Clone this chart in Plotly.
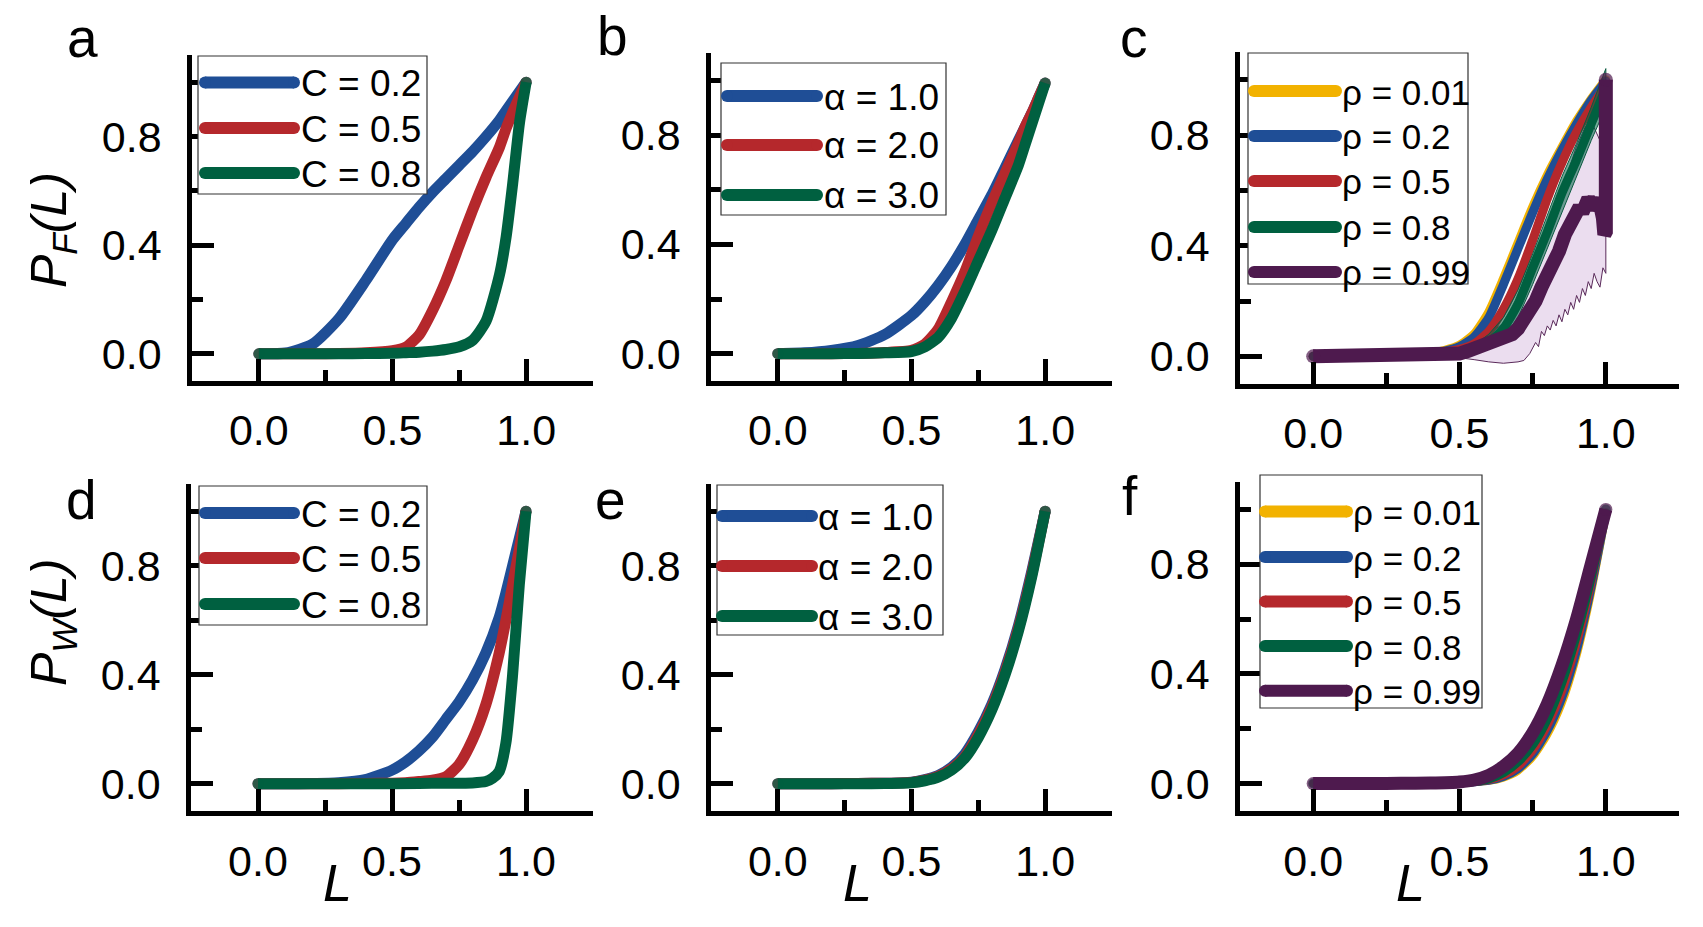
import plotly.graph_objects as go

W, H = 1703, 927
FONT = "Liberation Sans, Arial, sans-serif"

# ---------------- data ----------------
C_labels = ["C = 0.2", "C = 0.5", "C = 0.8"]
alpha_labels = ["α = 1.0", "α = 2.0", "α = 3.0"]
rho_labels = ["ρ = 0.01", "ρ = 0.2", "ρ = 0.5", "ρ = 0.8", "ρ = 0.99"]

L_std = [0, 0.1, 0.2, 0.3, 0.4, 0.5, 0.55, 0.6, 0.65, 0.7, 0.75, 0.8, 0.85, 0.9, 0.925, 0.95, 0.975, 1.0]

# panel a : P_F(L) for C
a_C02 = [0, 0.003, 0.035, 0.13, 0.27, 0.42, 0.48, 0.54, 0.595, 0.645, 0.695, 0.745, 0.80, 0.86, 0.895, 0.93, 0.965, 1.0]
a_C05 = [0, 0, 0, 0.001, 0.004, 0.012, 0.025, 0.07, 0.16, 0.27, 0.40, 0.53, 0.65, 0.76, 0.83, 0.89, 0.945, 1.0]
a_C08 = [0, 0, 0, 0, 0.001, 0.002, 0.004, 0.006, 0.01, 0.016, 0.026, 0.05, 0.12, 0.29, 0.43, 0.63, 0.85, 1.0]

# panel b : P_F(L) for alpha
b_a1 = [0, 0.003, 0.012, 0.03, 0.07, 0.14, 0.19, 0.25, 0.32, 0.40, 0.49, 0.58, 0.68, 0.78, 0.83, 0.88, 0.935, 0.99]
b_a2 = [0, 0, 0, 0.001, 0.004, 0.012, 0.035, 0.09, 0.19, 0.30, 0.43, 0.55, 0.66, 0.77, 0.83, 0.88, 0.935, 0.99]
b_a3 = [0, 0, 0, 0.001, 0.003, 0.008, 0.025, 0.06, 0.13, 0.23, 0.34, 0.45, 0.57, 0.69, 0.765, 0.84, 0.915, 0.99]

# panel c : P_F(L) for rho (with spread bands)
L_c = [0, 0.1, 0.2, 0.3, 0.4, 0.45, 0.5, 0.55, 0.6, 0.65, 0.7, 0.75, 0.8, 0.85, 0.9, 0.95, 1.0]
c_r001 = [0, 0, 0.001, 0.004, 0.012, 0.022, 0.04, 0.08, 0.16, 0.28, 0.41, 0.54, 0.655, 0.755, 0.85, 0.93, 1.0]
c_r02 = [0, 0, 0.001, 0.003, 0.01, 0.019, 0.035, 0.07, 0.14, 0.26, 0.39, 0.52, 0.64, 0.745, 0.84, 0.925, 0.995]
c_r05 = [0, 0, 0.001, 0.002, 0.008, 0.015, 0.025, 0.045, 0.09, 0.17, 0.28, 0.42, 0.57, 0.70, 0.81, 0.90, 0.98]
c_r08 = [0, 0, 0, 0.001, 0.005, 0.009, 0.015, 0.025, 0.05, 0.10, 0.19, 0.32, 0.45, 0.59, 0.71, 0.84, 0.97]
c_r08_hi = [0, 0, 0.001, 0.002, 0.008, 0.013, 0.02, 0.04, 0.08, 0.14, 0.24, 0.37, 0.51, 0.65, 0.77, 0.90, 1.04]
c_r08_lo = [0, 0, 0, 0, 0.002, 0.005, 0.01, 0.015, 0.03, 0.07, 0.14, 0.26, 0.39, 0.52, 0.65, 0.78, 0.90]

L_c099 = [0, 0.1, 0.2, 0.3, 0.4, 0.45, 0.5, 0.53, 0.56, 0.59, 0.62, 0.65, 0.68, 0.7, 0.72, 0.74, 0.76, 0.78,
          0.8, 0.82, 0.84, 0.86, 0.88, 0.9, 0.91, 0.92, 0.93, 0.94, 0.95, 0.96, 0.97, 0.98, 0.99, 0.995, 1.0, 1.0]
c_r099 = [0, 0, 0, 0.001, 0.003, 0.005, 0.01, 0.02, 0.03, 0.045, 0.055, 0.065, 0.08, 0.10, 0.13, 0.16, 0.20, 0.25,
          0.29, 0.33, 0.38, 0.44, 0.49, 0.53, 0.54, 0.52, 0.55, 0.57, 0.55, 0.57, 0.53, 0.55, 0.50, 0.44, 0.45, 1.0]
L_c099_hi = [0, 0.2, 0.4, 0.5, 0.55, 0.6, 0.65, 0.7, 0.75, 0.8, 0.85, 0.9, 0.93, 0.95, 0.97, 0.98, 0.99, 1.0]
c_r099_hi = [0, 0.001, 0.006, 0.02, 0.05, 0.08, 0.12, 0.18, 0.30, 0.45, 0.60, 0.76, 0.83, 0.85, 0.80, 0.78, 0.76, 1.0]
L_c099_lo = [0, 0.2, 0.4, 0.5, 0.55, 0.6, 0.65, 0.7, 0.72, 0.74, 0.76, 0.77, 0.78, 0.79, 0.8, 0.81, 0.82, 0.83,
             0.84, 0.85, 0.86, 0.87, 0.88, 0.89, 0.9, 0.91, 0.92, 0.93, 0.94, 0.95, 0.96, 0.97, 0.98, 0.99, 1.0]
c_r099_lo = [0, 0, -0.002, -0.005, -0.012, -0.02, -0.025, -0.02, -0.015, 0.01, 0.05, 0.035, 0.09, 0.075, 0.11, 0.095,
             0.13, 0.11, 0.15, 0.125, 0.17, 0.15, 0.195, 0.17, 0.22, 0.195, 0.245, 0.22, 0.27, 0.245, 0.30, 0.27, 0.25,
             0.32, 0.30]

# panel d : P_W(L) for C
d_C02 = [0, 0, 0.001, 0.004, 0.015, 0.05, 0.08, 0.12, 0.17, 0.235, 0.30, 0.38, 0.48, 0.61, 0.70, 0.80, 0.90, 1.0]
d_C05 = [0, 0, 0, 0, 0.001, 0.002, 0.004, 0.008, 0.013, 0.025, 0.07, 0.16, 0.29, 0.48, 0.60, 0.73, 0.86, 1.0]
L_d08 = [0, 0.2, 0.4, 0.6, 0.7, 0.8, 0.85, 0.875, 0.9, 0.925, 0.95, 0.975, 1.0]
d_C08 = [0, 0, 0, 0.001, 0.002, 0.003, 0.008, 0.02, 0.045, 0.15, 0.40, 0.73, 1.0]

# panels e, f : P_W(L)
L_ef = [0, 0.1, 0.2, 0.3, 0.4, 0.5, 0.55, 0.6, 0.65, 0.7, 0.75, 0.8, 0.85, 0.9, 0.95, 1.0]
e_a1 = [0, 0, 0, 0.001, 0.002, 0.006, 0.015, 0.03, 0.06, 0.11, 0.19, 0.29, 0.42, 0.58, 0.78, 1.0]
e_a2 = [0, 0, 0, 0.001, 0.002, 0.005, 0.013, 0.027, 0.055, 0.10, 0.18, 0.28, 0.41, 0.57, 0.77, 1.0]
e_a3 = [0, 0, 0, 0, 0.001, 0.004, 0.011, 0.024, 0.05, 0.095, 0.17, 0.27, 0.40, 0.56, 0.76, 1.0]

f_r001 = [0, 0, 0, 0, 0.001, 0.002, 0.004, 0.008, 0.02, 0.045, 0.095, 0.175, 0.29, 0.46, 0.69, 0.97]
f_r02 = [0, 0, 0, 0, 0.001, 0.002, 0.005, 0.01, 0.024, 0.052, 0.105, 0.19, 0.31, 0.48, 0.71, 0.98]
f_r05 = [0, 0, 0, 0, 0.001, 0.003, 0.006, 0.013, 0.03, 0.062, 0.12, 0.21, 0.335, 0.51, 0.73, 0.99]
f_r08 = [0, 0, 0, 0.001, 0.002, 0.004, 0.009, 0.019, 0.042, 0.082, 0.145, 0.24, 0.375, 0.55, 0.76, 1.0]
f_r099 = [0, 0, 0, 0.001, 0.002, 0.006, 0.013, 0.03, 0.062, 0.11, 0.185, 0.29, 0.43, 0.60, 0.80, 1.0]

x_ticks = [0.0, 0.5, 1.0]
y_ticks = [0.0, 0.4, 0.8]

# ---------------- styling ----------------
BLUE, RED, GREEN = "#1f4e96", "#b5282c", "#006040"
YELLOW, PURPLE = "#f2b200", "#4e1a4e"
C3 = [BLUE, RED, GREEN]
C5 = [YELLOW, BLUE, RED, GREEN, PURPLE]
TICK_SIZE = 43


def px(p):
    return p / W


def py(p):
    return 1 - p / H


# panel boxes in pixels: (left, right, top, bottom)
boxes = {
    1: (192, 593, 55, 381),
    2: (711, 1112, 53, 381),
    3: (1240, 1679, 52, 384),
    4: (191, 593, 484, 811),
    5: (711, 1112, 484, 811),
    6: (1240, 1679, 482, 811),
}

fig = go.Figure()


def curve(ax, xs, ys, color, width, shape="spline"):
    n = len(xs)
    fig.add_trace(go.Scatter(
        x=xs, y=ys, xaxis=f"x{ax}", yaxis=f"y{ax}", mode="lines+markers",
        line=dict(color=color, width=width, shape=shape, smoothing=0.6),
        marker=dict(size=[width] + [0] * (n - 2) + [width], color=color, line=dict(width=0)),
        showlegend=False, hoverinfo="skip"))


def band(ax, xs_hi, hi, xs_lo, lo, fill, edge):
    fig.add_trace(go.Scatter(
        x=list(xs_hi) + list(xs_lo)[::-1], y=list(hi) + list(lo)[::-1],
        xaxis=f"x{ax}", yaxis=f"y{ax}", mode="lines", fill="toself",
        fillcolor=fill, line=dict(color=edge, width=1), showlegend=False, hoverinfo="skip"))


# a
for ys, col in zip([a_C02, a_C05, a_C08], C3):
    curve(1, L_std, ys, col, 11)
# b
for ys, col in zip([b_a1, b_a2, b_a3], C3):
    curve(2, L_std, ys, col, 11)
# c
band(3, L_c099_hi, c_r099_hi, L_c099_lo, c_r099_lo, "rgba(205,170,215,0.40)", "#5a2a5a")
for ys, col in zip([c_r001, c_r02, c_r05], C5[:3]):
    curve(3, L_c, ys, col, 9)
band(3, L_c, c_r08_hi, L_c, c_r08_lo, "rgba(0,100,70,0.55)", "#0a5a40")
curve(3, L_c, c_r08, GREEN, 9)
curve(3, L_c099, c_r099, PURPLE, 14, shape="linear")
# d
curve(4, L_std, d_C02, BLUE, 11)
curve(4, L_std, d_C05, RED, 11)
curve(4, L_d08, d_C08, GREEN, 11)
# e
for ys, col in zip([e_a1, e_a2, e_a3], C3):
    curve(5, L_ef, ys, col, 11)
# f
for ys, col, w in zip([f_r001, f_r02, f_r05, f_r08, f_r099], C5, [7, 8, 8, 10, 13]):
    curve(6, L_ef, ys, col, w)

# axes
layout = dict(
    width=W, height=H, margin=dict(l=0, r=0, t=0, b=0),
    paper_bgcolor="white", plot_bgcolor="white",
    font=dict(family=FONT, color="black", size=TICK_SIZE),
    showlegend=False,
)
for i, (l, r, t, b) in boxes.items():
    sx = "" if i == 1 else str(i)
    layout[f"xaxis{sx}"] = dict(
        domain=[px(l), px(r)], anchor=f"y{sx}",
        range=[-0.25, 1.25], tickvals=x_ticks, tickformat=".1f",
        showline=True, linewidth=4.5, linecolor="black",
        ticks="inside", ticklen=22, tickwidth=4.5, tickcolor="black",
        minor=dict(ticks="inside", ticklen=11, tickwidth=4.5, tickcolor="black", dtick=0.25, tick0=0),
        showgrid=False, zeroline=False, ticklabelstandoff=8 if i <= 3 else 9,
        tickfont=dict(size=TICK_SIZE, family=FONT),
    )
    layout[f"yaxis{sx}"] = dict(
        domain=[py(b), py(t)], anchor=f"x{sx}",
        range=[-0.1, 1.1], tickvals=y_ticks, tickformat=".1f",
        showline=True, linewidth=4.5, linecolor="black",
        ticks="inside", ticklen=22, tickwidth=4.5, tickcolor="black",
        minor=dict(ticks="inside", ticklen=11, tickwidth=4.5, tickcolor="black", dtick=0.2, tick0=0),
        showgrid=False, zeroline=False, ticklabelstandoff=17,
        tickfont=dict(size=TICK_SIZE, family=FONT),
    )
fig.update_layout(**layout)

shapes = []
annotations = []

# custom legends (pixel layout)
legends = [
    dict(box=(198, 56, 427, 194), ys=[82.5, 128, 173], sx=(205, 294), tx=299, labels=C_labels, colors=C3, fs=37),
    dict(box=(721, 63, 946, 215), ys=[96, 145, 195], sx=(727, 817), tx=822, labels=alpha_labels, colors=C3, fs=37),
    dict(box=(1248, 53, 1468, 284), ys=[91, 136, 181, 227, 272], sx=(1254, 1336), tx=1340, labels=rho_labels, colors=C5, fs=35),
    dict(box=(199, 486, 427, 625), ys=[513, 558, 604], sx=(205, 294), tx=299, labels=C_labels, colors=C3, fs=37),
    dict(box=(717, 485, 943, 635), ys=[516, 566, 616], sx=(722, 812), tx=816, labels=alpha_labels, colors=C3, fs=37),
    dict(box=(1260, 475, 1482, 708), ys=[511.5, 557, 601.6, 646, 690.7], sx=(1265, 1347), tx=1351, labels=rho_labels, colors=C5, fs=35),
]
LW = 12
for lg in legends:
    x0, y0, x1, y1 = lg["box"]
    shapes.append(dict(type="rect", xref="paper", yref="paper", x0=px(x0), x1=px(x1), y0=py(y1), y1=py(y0),
                       line=dict(color="#333333", width=1.2), fillcolor="white", layer="above"))
    for yy, lab, col in zip(lg["ys"], lg["labels"], lg["colors"]):
        a, bx = lg["sx"]
        shapes.append(dict(type="line", xref="paper", yref="paper", x0=px(a), x1=px(bx), y0=py(yy), y1=py(yy),
                           line=dict(color=col, width=LW), layer="above"))
        for cx in (a, bx):
            shapes.append(dict(type="circle", xref="paper", yref="paper", x0=px(cx - LW / 2), x1=px(cx + LW / 2),
                               y0=py(yy + LW / 2), y1=py(yy - LW / 2), fillcolor=col, line=dict(width=0), layer="above"))
        annotations.append(dict(xref="paper", yref="paper", x=px(lg["tx"]), y=py(yy + 1), text=lab, showarrow=False,
                                xanchor="left", yanchor="middle", font=dict(size=lg["fs"], family=FONT)))

# panel letters
for letter, (lx, ly) in zip("abcdef", [(82, 38), (612, 36), (1134, 38), (81, 500), (610, 500), (1130, 496)]):
    annotations.append(dict(xref="paper", yref="paper", x=px(lx), y=py(ly), text=letter, showarrow=False,
                            xanchor="center", yanchor="middle", font=dict(size=55, family=FONT)))

# axis titles
annotations.append(dict(xref="paper", yref="paper", x=px(52), y=py(230), text="<i>P</i><sub><i>F</i></sub><i>(L)</i>",
                        showarrow=False, textangle=-90, xanchor="center", yanchor="middle",
                        font=dict(size=50, family=FONT)))
annotations.append(dict(xref="paper", yref="paper", x=px(52), y=py(622), text="<i>P</i><sub><i>W</i></sub><i>(L)</i>",
                        showarrow=False, textangle=-90, xanchor="center", yanchor="middle",
                        font=dict(size=50, family=FONT)))
for lx in (337, 858, 1410):
    annotations.append(dict(xref="paper", yref="paper", x=px(lx), y=py(883), text="<i>L</i>", showarrow=False,
                            xanchor="center", yanchor="middle", font=dict(size=52, family=FONT)))

fig.update_layout(shapes=shapes, annotations=annotations)
fig.write_html("out.html")
